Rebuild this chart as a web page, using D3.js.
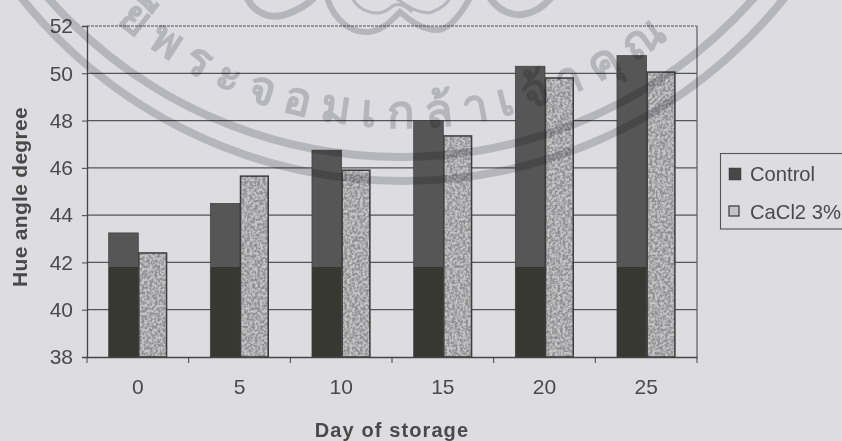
<!DOCTYPE html>
<html><head><meta charset="utf-8">
<script src="https://cdn.jsdelivr.net/npm/d3@7"></script>
<style>
html,body{margin:0;padding:0;background:#dcdce1;overflow:hidden}
text{font-family:"Liberation Sans",Arial,sans-serif;fill:#4a4a4a}
</style></head><body><div id="chart"></div>
<script>
const days = ["0","5","10","15","20","25"];
const seriesNames = ["Control","CaCl2 3%"];
const controlValues = [43.25,44.5,46.75,48,50.3,50.75];
const cacl2Values = [42.4,45.65,45.9,47.35,49.8,50.05];
const yTicks = [38,40,42,44,46,48,50,52];
const xTitle = "Day of storage", yTitle = "Hue angle degree";
const watermarkText = "ยีพระจอมเกล้าเจ้าคุณ";

const W=842,H=441, L=87,R=697,T=26,B=357, shadeY=267;
const svg=d3.select("#chart").append("svg").attr("width",W).attr("height",H).style("display","block");
const defs=svg.append("defs");
const g=defs.append("linearGradient").attr("id","ctrl").attr("gradientUnits","userSpaceOnUse")
  .attr("x1",0).attr("x2",0).attr("y1",0).attr("y2",H);
[[0,"#565656"],[shadeY/H,"#565656"],[shadeY/H,"#383833"],[1,"#383833"]].forEach(s=>g.append("stop").attr("offset",s[0]).attr("stop-color",s[1]));
const f=defs.append("filter").attr("id","grain").attr("x",0).attr("y",0).attr("width","100%").attr("height","100%");
f.append("feTurbulence").attr("type","fractalNoise").attr("baseFrequency",0.38).attr("numOctaves",3).attr("seed",4).attr("result","n");
f.append("feColorMatrix").attr("in","n").attr("type","matrix").attr("values","0 0 0 0 0.28  0 0 0 0 0.28  0 0 0 0 0.29  3.4 0 0 0 -1.15").attr("result","d");
f.append("feComposite").attr("in","d").attr("in2","SourceGraphic").attr("operator","in").attr("result","c");
f.append("feMerge").selectAll("feMergeNode").data(["SourceGraphic","c"]).join("feMergeNode").attr("in",d=>d);
defs.append("filter").attr("id","soft").append("feGaussianBlur").attr("stdDeviation",0.5);
const arcP=d3.path(); arcP.arc(403,-310,438,Math.PI*0.86,Math.PI*0.14,true);
defs.append("path").attr("id","wmArc").attr("d",arcP.toString());

const x=d3.scaleBand().domain(days).range([L,R]);
const xIn=d3.scaleBand().domain(seriesNames).range([0,x.bandwidth()]).paddingInner(0).paddingOuter(0.71);
const y=d3.scaleLinear().domain([38,52]).range([B,T]);

const chart=svg.append("g").attr("filter","url(#soft)");
// grid
chart.append("g").selectAll("line").data(yTicks.slice(1)).join("line")
  .attr("x1",L).attr("x2",R).attr("y1",d=>y(d)).attr("y2",d=>y(d))
  .attr("stroke","#555").attr("stroke-width",1.2)
  .attr("stroke-dasharray",d=>d===52?"3 1":null);
chart.append("line").attr("x1",R).attr("x2",R).attr("y1",T).attr("y2",B).attr("stroke","#666").attr("stroke-width",1.3);
// bars
const series=[controlValues,cacl2Values];
seriesNames.forEach((s,i)=>{
  const bx=(d,k)=>x(days[k])+xIn(s)+(i?1:0.5), bw=xIn.bandwidth()-(i?2:0);
  chart.append("g").selectAll("rect").data(series[i]).join("rect")
    .attr("x",bx).attr("width",bw)
    .attr("y",d=>y(d)).attr("height",d=>B-y(d))
    .attr("fill",i?"#c6c6c8":"url(#ctrl)")
    .attr("stroke",i?"none":"#383838").attr("stroke-width",.6)
    .attr("filter",i?"url(#grain)":null);
  if(i) chart.append("g").selectAll("rect").data(series[i]).join("rect")
    .attr("x",bx).attr("width",bw)
    .attr("y",d=>y(d)).attr("height",d=>B-y(d))
    .attr("fill","none").attr("stroke","#3c3c3c").attr("stroke-width",1.5);
});
// axes
const yAxis=chart.append("g").attr("transform",`translate(${L},0)`).call(d3.axisLeft(y).tickValues(yTicks).tickSize(5).tickPadding(9));
const xAxis=chart.append("g").attr("transform",`translate(0,${B})`).call(d3.axisBottom(x).tickSize(0).tickPadding(22));
xAxis.selectAll("line").remove();
xAxis.append("g").selectAll("line").data(days.map(d=>x(d)).concat([R])).join("line")
  .attr("x1",d=>d).attr("x2",d=>d).attr("y1",0).attr("y2",6).attr("stroke","#444");
[yAxis,xAxis].forEach(a=>{
  a.select(".domain").attr("stroke","#444").attr("stroke-width",1.3);
  a.selectAll(".tick line").attr("stroke","#444");
  a.selectAll("text").style("font-size","21px").style("font-family",'"Liberation Sans"').attr("fill","#4a4a4a");
});
// titles
chart.append("text").attr("x",392).attr("y",437).attr("text-anchor","middle").style("font-size","20px").style("font-weight","bold").style("letter-spacing","1.1px").text(xTitle);
chart.append("text").attr("transform","translate(27,197) rotate(-90)").attr("text-anchor","middle").style("font-size","21px").style("font-weight","bold").style("letter-spacing","0.3px").text(yTitle);
// legend
const lg=chart.append("g");
lg.append("rect").attr("x",720.5).attr("y",153.5).attr("width",140).attr("height",75.5).attr("fill","none").attr("stroke","#555").attr("stroke-width",1.1);
seriesNames.forEach((s,i)=>{
  const yy=[174,212][i];
  lg.append("rect").attr("x",729).attr("y",yy-6).attr("width",i?10:12).attr("height",i?10:12)
    .attr("fill",i?"#c4c4c6":"#474747").attr("stroke",i?"#444":"#3a3a3a").attr("stroke-width",i?1.3:.5);
  lg.append("text").attr("x",750).attr("y",yy+7).style("font-size","20.2px").text(s);
});
// watermark
const wm=svg.append("g").attr("filter","url(#soft)").style("mix-blend-mode","multiply");
const wmColor="#d2d2d5";
[[401,-314,471],[403,-308,489]].forEach(c=>{
  const p=d3.path(); p.arc(c[0],c[1],c[2],Math.PI*1,0,true);
  wm.append("path").attr("d",p.toString()).attr("fill","none").attr("stroke",wmColor).attr("stroke-width",8);
});
wm.append("path").attr("fill","none").attr("stroke",wmColor).attr("stroke-width",7)
  .attr("d","M247,-2C255,14 272,20 287,14C298,10 306,6 314,-2");
wm.append("path").attr("fill","none").attr("stroke",wmColor).attr("stroke-width",6)
  .attr("d","M327,-2C335,22 352,33 368,32C382,31 390,22 400,12C408,18 420,30 437,30C450,30 462,12 470,-2");
wm.append("path").attr("fill","none").attr("stroke",wmColor).attr("stroke-width",7)
  .attr("d","M490,-2C498,10 512,17 525,14C535,12 544,6 551,-2");
wm.append("path").attr("fill","none").attr("stroke",wmColor).attr("stroke-width",3)
  .attr("d","M352,-2C360,12 378,18 390,8C396,2 404,4 412,12M395,-2C405,4 420,16 432,12C442,8 448,2 450,-2");
wm.append("text").style("font-family",'"Noto Sans","DejaVu Sans",sans-serif').style("font-size","46px").style("letter-spacing","11px").style("fill",wmColor)
  .style("stroke",wmColor).style("stroke-width","1.6px")
  .append("textPath").attr("href","#wmArc").attr("startOffset","18.5%").text(watermarkText);
</script></body></html>
